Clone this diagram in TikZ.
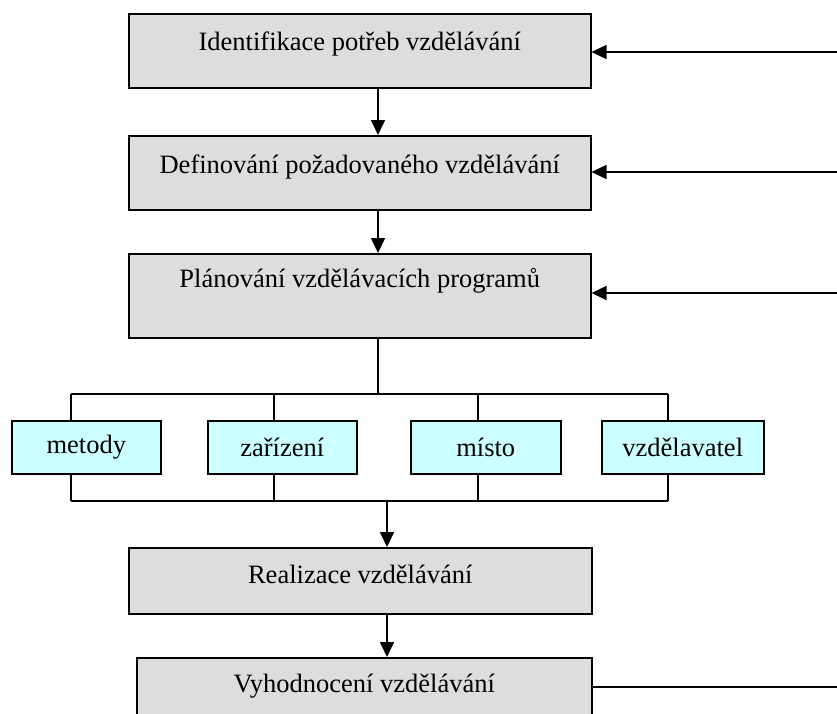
\documentclass[tikz,border=0pt]{standalone}
\usepackage{fontspec}
\setmainfont{Liberation Serif}
\usetikzlibrary{arrows.meta,calc}
\definecolor{boxgray}{RGB}{221,221,221}
\definecolor{boxcyan}{RGB}{204,255,255}
\tikzset{
  bigbox/.style={draw=black, line width=1.5pt, fill=boxgray, rectangle, anchor=north west,
    inner xsep=0pt, inner ysep=0pt, align=center, font=\fontsize{26.5}{30}\selectfont},
  smallbox/.style={draw=black, line width=1.5pt, fill=boxcyan, rectangle, anchor=north west,
    inner sep=0pt, minimum height=53pt, font=\fontsize{26.5}{30}\selectfont},
  conn/.style={line width=1.3pt},
  arr/.style={line width=1.6pt, -{Triangle[length=15pt,width=14pt]}},
}
\begin{document}
\begin{tikzpicture}[x=1pt,y=-1pt]
\useasboundingbox (0,0) rectangle (837,713);
% main boxes
\node[bigbox, minimum width=462pt, text height=37pt, text depth=37pt] (b1) at (128,13) {Identifikace potřeb vzdělávání};
\node[bigbox, minimum width=462pt, text height=38pt, text depth=36pt] (b2) at (128,135) {Definování požadovaného vzdělávání};
\node[bigbox, minimum width=462pt, text height=34pt, text depth=50pt] (b3) at (128,253) {Plánování vzdělávacích programů};
\node[bigbox, minimum width=463pt, text height=36pt, text depth=30pt] (b4) at (128,547) {Realizace vzdělávání};
\node[bigbox, minimum width=455pt, text height=35pt, text depth=35pt] (b5) at (136,657) {Vyhodnocení vzdělávání};
% small boxes
\node[smallbox, minimum width=149pt] (s1) at (11,420) {metody};
\node[smallbox, minimum width=149pt] (s2) at (207,420) {zařízení};
\node[smallbox, minimum width=150pt] (s3) at (410,420) {místo};
\node[smallbox, minimum width=162pt] (s4) at (601,420) {vzdělavatel};
% helper coordinates
\coordinate (ax) at (378,0);
\coordinate (bx) at (387,0);
\coordinate (top) at (0,394);
\coordinate (bot) at (0,501);
\coordinate (t1) at (71,0);
\coordinate (t2) at (274,0);
\coordinate (t3) at (478,0);
\coordinate (t4) at (668,0);
\coordinate (in1) at (837,52);
\coordinate (in2) at (837,172);
\coordinate (in3) at (837,293);
\coordinate (out5) at (837,687);
% arrows down
\draw[arr] (ax |- b1.south) -- (ax |- b2.north);
\draw[arr] (ax |- b2.south) -- (ax |- b3.north);
\draw[conn] (ax |- b3.south) -- (ax |- top);
% tree
\draw[conn] (t1 |- top) -- (t4 |- top);
\draw[conn] (t1 |- top) -- (t1 |- s1.north);
\draw[conn] (t2 |- top) -- (t2 |- s2.north);
\draw[conn] (t3 |- top) -- (t3 |- s3.north);
\draw[conn] (t4 |- top) -- (t4 |- s4.north);
\draw[conn] (t1 |- s1.south) -- (t1 |- bot);
\draw[conn] (t2 |- s2.south) -- (t2 |- bot);
\draw[conn] (t3 |- s3.south) -- (t3 |- bot);
\draw[conn] (t4 |- s4.south) -- (t4 |- bot);
\draw[conn] (t1 |- bot) -- (t4 |- bot);
\draw[arr] (bx |- bot) -- (bx |- b4.north);
\draw[arr] (bx |- b4.south) -- (bx |- b5.north);
% feedback arrows
\draw[arr] (in1) -- (in1 -| b1.east);
\draw[arr] (in2) -- (in2 -| b2.east);
\draw[arr] (in3) -- (in3 -| b3.east);
\draw[line width=1.6pt] (out5 -| b5.east) -- (out5);
\end{tikzpicture}
\end{document}
